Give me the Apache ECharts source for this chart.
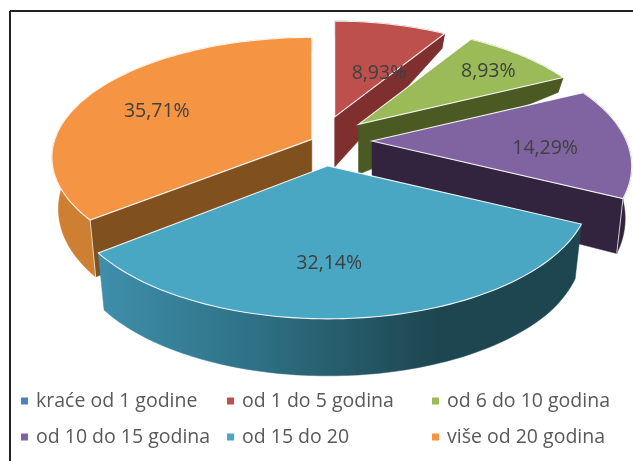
<!DOCTYPE html>
<html><head><meta charset="utf-8">
<style>html,body{margin:0;padding:0;background:#fff}#c{width:633px;height:461px;filter:blur(0.7px)}</style>
<script src="https://cdn.jsdelivr.net/npm/echarts@6/dist/echarts.min.js"></script>
</head><body><div id="c"></div>
<script>
// data
const categories = ['kraće od 1 godine','od 1 do 5 godina','od 6 do 10 godina','od 10 do 15 godina','od 15 do 20','više od 20 godina'];
const shares = [0, 8.93, 8.93, 14.29, 32.14, 35.71];
// style
const topColors  = ['#4f81bd','#bd4f4d','#9bbb59','#8064a2','#49a7c3','#f59443'];
const wallColors = ['#2c4d75','#7f2f2e','#4b5a22','#32243f','#1d4650','#80501f'];
const rimColors  = ['#2c4d75','#7f2f2e','#4b5a22','#32243f','#1d4650','#cf7f32'];
const explode    = [1, 1, 1, 1, 1, 0.15];
const drawOrder  = [0, 1, 2, 3, 5, 4];
const labelShift = [[0,0],[3,25],[12,-3],[-5,7],[-22,-1],[0,6]];
const legendPos  = [[21,391],[227,391],[432,391],[21,427],[227,427],[432,427]];
// 3D view
const CX = 319, CY = 141, EX = 53, EY = 25, A = 257, BACK = 102, SHRINK = 0.975;
const sliceK     = [0.2, 0.2, 0.2, 0.2, 0.2, 0.15];
const sliceScale = [1, 0.94, 0.96, 0.99, 1, 1];
const sliceNudge = [0, 1, 0, 0, 3, 0];

const total = shares.reduce((a,b)=>a+b,0);
function angles(i){
  let s = 0; for (let j=0;j<i;j++) s += shares[j];
  return [s/total*2*Math.PI, (s+shares[i])/total*2*Math.PI];
}
function proj(th,r,i){
  const K = sliceK[i], S = sliceScale[i];
  const a = r*Math.sin(th), b = r*Math.cos(th), w = 1+K*b;
  return [S*A*a/w, -S*BACK*(1+K)*b/w, b];
}
function depth(b){
  if (b >= 0.43) return 15;
  if (b >= 0) return 50 - (b/0.43)*35;
  if (b >= -0.62) return 50 + (-b/0.62)*7;
  return 57;
}
function renderSlice(params, api){
  const i = params.seriesIndex, v = api.value(0);
  if (!v) return {type:'group',children:[]};
  const [t0,t1] = angles(i), mid = (t0+t1)/2;
  const ax = CX + sliceNudge[i] + EX*explode[i]*Math.sin(mid), ay = CY - EY*explode[i]*Math.cos(mid);
  const n = Math.max(8, Math.round((t1-t0)*40));
  const top = [], base = [];
  for (let k=0;k<=n;k++){
    const p = proj(t0+(t1-t0)*k/n,1,i);
    top.push([ax+p[0], ay+p[1]]);
    base.push([ax+p[0]*SHRINK, ay+p[1]+depth(p[2])]);
  }
  const apexTop = [ax,ay], apexBase = [ax,ay+depth(0)];
  const edge = 'rgba(255,255,255,0.9)';
  const rimFill = i===4 ? new echarts.graphic.LinearGradient(0,0,1,0,[
      {offset:0,color:'#3f8fab'},{offset:0.33,color:'#2e7084'},{offset:0.7,color:rimColors[i]},{offset:1,color:rimColors[i]}]) : rimColors[i];
  const poly = (pts,fill,stroke)=>({type:'polygon',shape:{points:pts},
      style:{fill:fill,stroke:stroke||fill,lineWidth:stroke?1.1:0.5}});
  const cornerLine = (a,b)=>({type:'line',shape:{x1:a[0],y1:a[1],x2:b[0],y2:b[1]},
      style:{stroke:'rgba(255,255,255,0.75)',lineWidth:1}});
  const ch = [];
  ch.push(poly(top.concat(base.slice().reverse()),rimFill));
  // a cut face shows only when it turns towards the viewer
  if (Math.sin(t0) < -0.01) ch.push(poly([apexTop,top[0],base[0],apexBase],wallColors[i]));
  if (Math.sin(t1) > 0.01) ch.push(poly([apexTop,top[n],base[n],apexBase],wallColors[i]));
  if (Math.sin(t0) < -0.01 && Math.cos(t0) < 0) ch.push(cornerLine(top[0],base[0]));
  if (Math.sin(t1) > 0.01 && Math.cos(t1) < 0) ch.push(cornerLine(top[n],base[n]));
  ch.push(poly([apexTop].concat(top),topColors[i],edge));
  const lp = proj(mid,0.7,i);
  ch.push({type:'text',z2:10,style:{
    x:ax+lp[0]+labelShift[i][0], y:ay+lp[1]+labelShift[i][1],
    text:v.toFixed(2).replace('.',',')+'%',
    fill:'#404040',font:'19.5px "Open Sans"',align:'center',verticalAlign:'middle'}});
  return {type:'group',children:ch};
}
const chart = echarts.init(document.getElementById('c'),null,{width:633,height:461});
chart.setOption({
  animation:false,
  backgroundColor:'#fff',
  graphic:[
    {type:'line',shape:{x1:10,y1:11,x2:633,y2:11},style:{stroke:'#222',lineWidth:2}},
    {type:'line',shape:{x1:10,y1:11,x2:10,y2:461},style:{stroke:'#222',lineWidth:2}}
  ],
  legend:categories.map((name,i)=>({
    data:[name],left:legendPos[i][0],top:legendPos[i][1],padding:0,
    itemWidth:7,itemHeight:7,icon:'rect',selectedMode:false,
    textStyle:{fontFamily:'Open Sans',fontSize:19.5,color:'#595959',padding:[0,0,0,3]}
  })),
  series:categories.map((name,i)=>({
    type:'custom',name:name,coordinateSystem:'none',
    z:2+drawOrder.indexOf(i),silent:true,
    itemStyle:{color:topColors[i]},
    renderItem:renderSlice,
    data:[[shares[i]]]
  }))
});
</script></body></html>
